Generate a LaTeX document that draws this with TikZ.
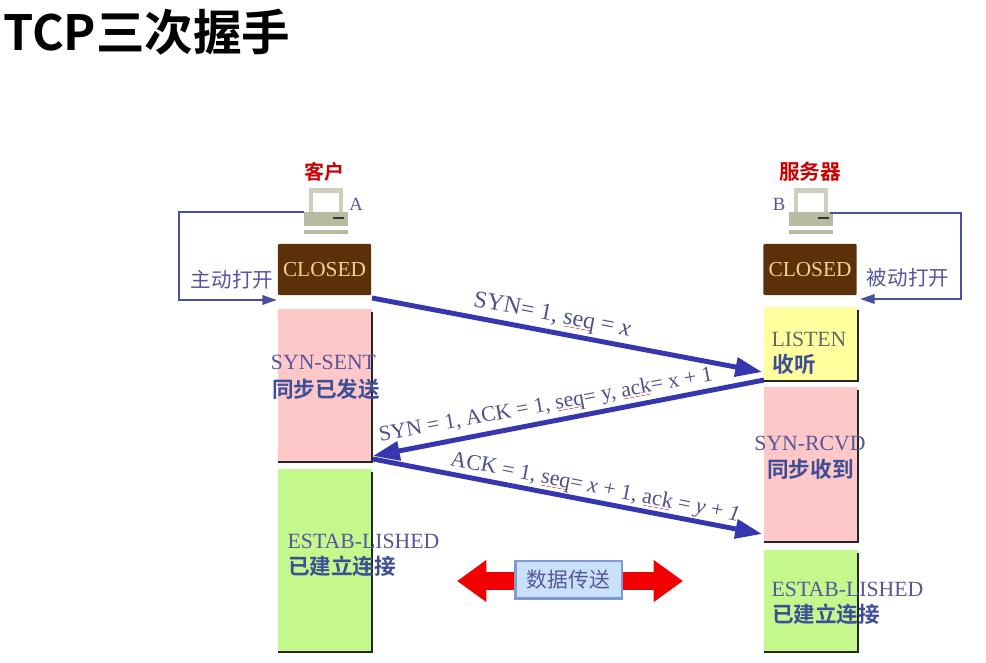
\documentclass[tikz,border=0pt]{standalone}
\usepackage{fontspec}
\setmainfont{Liberation Serif}
\newfontfamily\cjk{Noto Sans CJK SC}
\newfontfamily\cjkb{Noto Sans CJK SC Bold}
\newfontfamily\wavefont{DejaVu Sans}
\usetikzlibrary{arrows.meta,calc}
\definecolor{arrowblue}{HTML}{3636B0}
\definecolor{loopblue}{HTML}{4A50A0}
\definecolor{labelblue}{HTML}{56569C}
\definecolor{msgtext}{HTML}{50508C}
\definecolor{cnblue}{HTML}{3E4E96}
\definecolor{brownbox}{HTML}{5C3008}
\definecolor{closedtext}{HTML}{EFD590}
\definecolor{pinkbox}{HTML}{FFC8C8}
\definecolor{greenbox}{HTML}{C4F88C}
\definecolor{yellowbox}{HTML}{FFFF9E}
\definecolor{pcbody}{HTML}{B8BBA0}
\definecolor{datafill}{HTML}{C9E2FA}
\definecolor{dataedge}{HTML}{7F9AD0}
\newsavebox{\sqbox}
\newcommand{\sq}[1]{\leavevmode\sbox{\sqbox}{#1}\rlap{\raisebox{-3.4pt}{\hbox to \wd\sqbox{\color{red!75!black}\wavefont\fontsize{5}{5}\selectfont\cleaders\hbox{\char"223C}\hfill}}}\usebox{\sqbox}}
\tikzset{
  x=0.75pt,y=-0.75pt,
  closedbox/.style={fill=brownbox,text=closedtext,font=\fontsize{16}{16}\selectfont,inner sep=0pt,outer sep=0pt,minimum width=70pt,minimum height=38.5pt,rounded corners=1pt},
  phase/.style={inner sep=0pt,outer sep=0pt,minimum width=70pt},
  edge line/.style={draw=black!85,line width=1.5pt},
  statename/.style={text=labelblue,font=\fontsize{16.3}{16.3}\selectfont,inner sep=0pt},
  statecn/.style={text=cnblue,font=\cjkb\fontsize{16.2}{16.2}\selectfont,inner sep=0pt},
  hostlabel/.style={text=labelblue,font=\fontsize{14}{14}\selectfont,inner sep=0pt},
  hosttitle/.style={text=red!80!black,font=\cjkb\fontsize{15}{15}\selectfont,inner sep=0pt},
  openlabel/.style={text=labelblue,font=\cjk\fontsize{15.4}{15.4}\selectfont,inner sep=0pt},
  msg/.style={draw=arrowblue,line width=3.7pt,-{Triangle[length=20pt,width=14pt]}},
  loopline/.style={draw=loopblue,line width=1.8pt,-{Triangle[length=11pt,width=7pt]}},
  msglabel/.style={text=msgtext,inner sep=0pt},
  pc/.pic={
    \fill[pcbody!70!white] (-16,-23) rectangle (18,2);
    \fill[white] (-12,-18) rectangle (14,2);
    \fill[pcbody] (-21,1) rectangle (23,15);
    \draw[black!80,line width=1pt] (8,7) -- (19,7);
    \fill[pcbody] (-21,19) rectangle (23,23);
  }
}
\begin{document}
\begin{tikzpicture}
\useasboundingbox (0,0) rectangle (986,663);
\fill[white] (0,0) rectangle (986,663);

\node[anchor=west,inner sep=0pt,font=\cjkb\fontsize{36.4}{36.4}\selectfont] (title) at (3,32) {TCP三次握手};

% state boxes
\node[closedbox] (closedA) at (324.5,269.5) {CLOSED};
\node[closedbox] (closedB) at (810,269.5) {CLOSED};
\node[phase,fill=pinkbox,minimum height=115pt] (sent) at (325,385.5) {};
\node[phase,fill=greenbox,minimum height=137pt] (estA) at (325,560.5) {};
\node[phase,fill=yellowbox,minimum height=56pt] (listen) at (811,344) {};
\node[phase,fill=pinkbox,minimum height=116pt] (rcvd) at (811,464.5) {};
\node[phase,fill=greenbox,minimum height=76.5pt] (estB) at (811,601) {};
\foreach \n in {sent,estA,listen,rcvd,estB}{
  \draw[edge line] ($(\n.north east)+(0,3)$) -- (\n.south east) -- (\n.south west);
}

% hosts
\pic at (325,211) {pc};
\pic at (810,211) {pc};
\coordinate (pcAport) at (304,212);
\coordinate (pcBport) at (830,213);
\node[hosttitle] (clientname) at (324,172) {客户};
\node[hosttitle,font=\cjkb\fontsize{15.5}{15.5}\selectfont] (servername) at (810,172) {服务器};
\node[hostlabel] (labelA) at (356,204) {A};
\node[hostlabel] (labelB) at (779,204) {B};

% open loops
\coordinate (loopAin) at (277,300);
\coordinate (loopBin) at (860,299);
\draw[loopline] (pcAport) -- (179,212) -- (179,300) -- (loopAin);
\draw[loopline] (pcBport) -- (961,213) -- (961,299) -- (loopBin);
\node[openlabel] (openA) at (232,280) {主动打开};
\node[openlabel] (openB) at (908,278) {被动打开};

% state names
\node[statename] (sentname) at (323.5,362) {SYN-SENT};
\node[statecn] (sentcn) at (326,389) {同步已发送};
\node[statename,text=black!60] (listenname) at (809,339) {LISTEN};
\node[statecn] (listencn) at (794,364) {收听};
\node[statename] (rcvdname) at (810,443) {SYN-RCVD};
\node[statecn] (rcvdcn) at (810.5,469) {同步收到};
\node[statename] (estAname) at (363.5,541) {ESTAB-LISHED};
\node[statecn] (estAcn) at (342,566) {已建立连接};
\node[statename] (estBname) at (847.5,589) {ESTAB-LISHED};
\node[statecn] (estBcn) at (826,614) {已建立连接};

% messages
\coordinate (m1a) at (372,298);
\coordinate (m1b) at (762,372);
\coordinate (m2a) at (764,380);
\coordinate (m2b) at (373,456);
\coordinate (m3a) at (373,459);
\coordinate (m3b) at (762,534);
\draw[msg] (m1a) -- (m1b);
\draw[msg] (m2a) -- (m2b);
\draw[msg] (m3a) -- (m3b);
\node[msglabel,rotate=-11,font=\fontsize{18}{18}\selectfont] (m1t) at (552,316) {SYN= 1, \sq{seq} = \textit{x}};
\node[msglabel,rotate=10.4,font=\fontsize{16.3}{16.3}\selectfont] (m2t) at (546,406) {SYN = 1, ACK = 1, \sq{seq}= y, \sq{ack}= x + 1};
\node[msglabel,rotate=-11,font=\fontsize{16.6}{16.6}\selectfont] (m3t) at (595,488) {ACK = 1, \sq{seq}= \textit{x} + 1, \sq{ack} = \textit{y} + \textit{1}};

% data transfer
\coordinate (dataL) at (457,581);
\coordinate (dataR) at (683,581);
\draw[red!95!black,line width=13.5pt,{Triangle[length=22pt,width=30pt]}-{Triangle[length=22pt,width=30pt]}] (dataL) -- (dataR);
\node[draw=dataedge,line width=2pt,fill=datafill,minimum width=80pt,minimum height=28pt,inner sep=0pt,text=labelblue,font=\cjk\fontsize{15.6}{15.6}\selectfont] (data) at (568.5,579.5) {数据传送};
\end{tikzpicture}
\end{document}
